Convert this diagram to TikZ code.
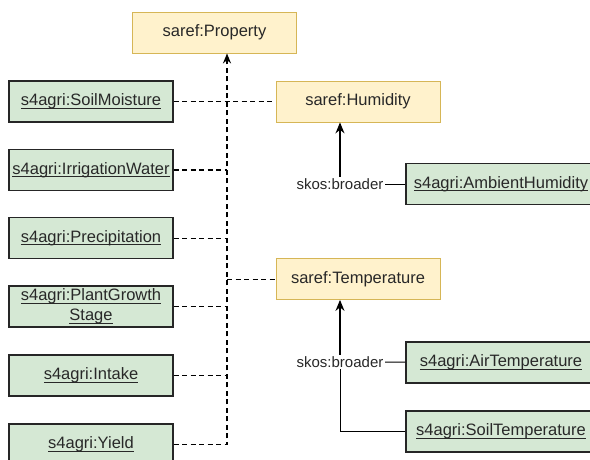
\documentclass[tikz,border=0pt]{standalone}
\usepackage{fontspec}
\setmainfont{Liberation Sans}
\usetikzlibrary{arrows.meta}

\definecolor{ye}{RGB}{255,242,204}
\definecolor{yb}{RGB}{214,182,86}
\definecolor{gr}{RGB}{213,232,212}
\definecolor{tx}{RGB}{40,40,40}

\newcommand{\ulin}[1]{\setbox0\hbox{#1}\rlap{\rule[-2.8pt]{\wd0}{0.8pt}}\box0}

\begin{document}
\begin{tikzpicture}[x=1pt, y=-1pt,
        yellow/.style={rectangle, draw=yb, fill=ye, line width=0.8pt, minimum width=164pt, minimum height=41pt, text=tx, font=\fontsize{16.5}{20}\selectfont},
        green/.style={rectangle, draw=black!85, fill=gr, line width=1.4pt, minimum width=164pt, minimum height=41pt, text=tx, align=center, inner sep=2pt, font=\fontsize{16.5}{20}\selectfont},
        wide/.style={green, minimum width=190pt},
        lbl/.style={text=tx, inner sep=1.5pt, font=\fontsize{15}{18}\selectfont},
        lite/.style={draw, line width=0.9pt, dash pattern=on 5pt off 3.5pt},
        heavy/.style={draw, line width=1.6pt, dash pattern=on 5pt off 3.5pt},
        broader/.style={draw, line width=1.3pt, -{Stealth[length=11pt,width=9pt]}},
    ]

    \clip (0,0) rectangle (590,459);

    \node[yellow] (1) at (214.5,32.5) {saref:Property};
    \node[yellow] (2) at (358,101.5) {saref:Humidity};
    \node[yellow] (3) at (358,279) {saref:Temperature};

    \node[green] (4) at (91,101.5) {\ulin{s4agri:SoilMoisture}};
    \node[green] (5) at (91,170) {\ulin{s4agri:IrrigationWater}};
    \node[green] (6) at (91,238) {\ulin{s4agri:Precipitation}};
    \node[green] (7) at (91,306.5) {\ulin{s4agri:PlantGrowth}\\\ulin{Stage}};
    \node[green] (8) at (91,375.5) {\ulin{s4agri:Intake}};
    \node[green] (9) at (91,444.5) {\ulin{s4agri:Yield}};

    \node[wide] (10) at (501,184) {\ulin{s4agri:AmbientHumidity}};
    \node[wide] (11) at (501,362.5) {\ulin{s4agri:AirTemperature}};
    \node[wide] (12) at (501,431.5) {\ulin{s4agri:SoilTemperature}};

    \node[lbl] (13) at (340,184) {skos:broader};
    \node[lbl] (14) at (340,362) {skos:broader};

    \coordinate (t) at ([xshift=12.5pt]1.south);

    \draw[heavy, -{Stealth[length=10pt,width=8pt]}] (9) -| (t);

    \path[lite]
    (4) edge (2)
    (6) edge (6 -| t)
    (8) edge (8 -| t)
    (3 -| t) edge (3)
    ;

    \path[heavy]
    (5) edge (5 -| t)
    (7) edge (7 -| t)
    ;

    \draw[broader] (13.north) -- (13.north |- 2.south);
    \draw[broader] (14.north) -- (14.north |- 3.south);

    \draw[line width=1pt] (13) -- (10);
    \draw[line width=1pt] (14) -- (11);
    \draw[line width=1pt] (14.south) |- (12);
\end{tikzpicture}
\end{document}
